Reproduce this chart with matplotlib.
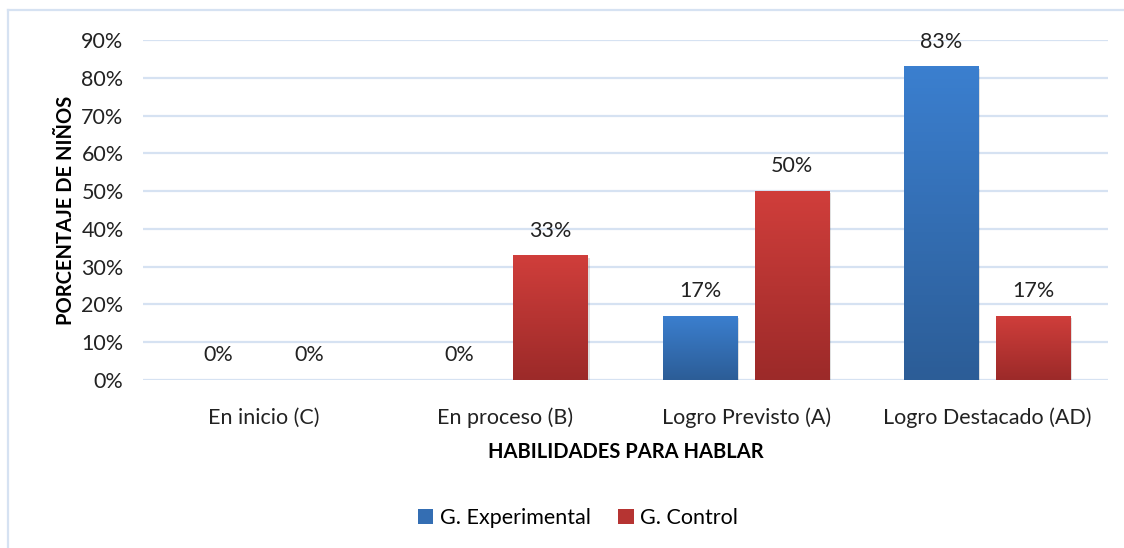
import numpy as np
import matplotlib.pyplot as plt
from matplotlib.lines import Line2D
from matplotlib.colors import LinearSegmentedColormap

plt.rcParams['font.family'] = ['Lato', 'DejaVu Sans']

categorias = ['En inicio (C)', 'En proceso (B)', 'Logro Previsto (A)', 'Logro Destacado (AD)']
experimental = [0, 0, 17, 83]
control = [0, 33, 50, 17]
series = ['G. Experimental', 'G. Control']

grad_blue = LinearSegmentedColormap.from_list('b', ['#2c5d97', '#3b7fcf'])
grad_red = LinearSegmentedColormap.from_list('r', ['#9c2a29', '#d03e3b'])

fig = plt.figure(figsize=(11.24, 5.48), dpi=100)
ax = fig.add_axes([143/1124, 1-380/548, 965/1124, 340/548])

x = np.arange(len(categorias))
w = 0.31
off = 0.19
grid_c = '#d6e2f2'
fs = 15.5

ax.set_xlim(-0.5, 3.5)
ax.set_ylim(0, 90)
ax.set_yticks(np.arange(0, 91, 10))
ax.set_yticklabels([f'{v}%' for v in range(0, 91, 10)], fontsize=fs, color='#222222')
ax.yaxis.grid(True, color=grid_c, lw=1.6)
ax.set_axisbelow(True)
for s in ax.spines.values():
    s.set_visible(False)
ax.tick_params(length=0, pad=14)
ax.tick_params(axis='x', pad=20)
ax.set_xticks(x)
ax.set_xticklabels(categorias, fontsize=fs, color='#222222')

def gradbars(xs, vals, cmap, label):
    bars = ax.bar(xs, vals, w, color=cmap(0.5), label=label, zorder=2)
    for b in bars:
        h = b.get_height()
        # shadow
        ax.bar(b.get_x() + b.get_width()/2 + 0.006, h, w, bottom=-0.6,
               color='#000000', alpha=0.12, zorder=1.5)
        if h > 0:
            im = ax.imshow(np.linspace(0, 1, 100).reshape(-1, 1), cmap=cmap,
                           aspect='auto', origin='lower',
                           extent=[b.get_x(), b.get_x() + b.get_width(), 0, h],
                           zorder=2.5)
            im.set_clip_path(b)
        ax.text(b.get_x() + b.get_width()/2, h + 3.9, f'{h:.0f}%',
                ha='center', va='bottom', fontsize=fs, color='#222222', zorder=3)
    return bars

gradbars(x - off, experimental, grad_blue, series[0])
gradbars(x + off, control, grad_red, series[1])
ax.set_xlim(-0.5, 3.5)
ax.set_ylim(0, 90)

ax.set_ylabel('PORCENTAJE DE NIÑOS', fontsize=14.5, fontweight='bold', labelpad=4)
ax.set_xlabel('HABILIDADES PARA HABLAR', fontsize=14.5, fontweight='bold', labelpad=10)

leg = ax.legend(loc='center', bbox_to_anchor=((578 - 143) / 965, (380 - 518) / 340),
                ncol=2, frameon=False, fontsize=fs, handlelength=0.7,
                handleheight=0.7, columnspacing=1.3, handletextpad=0.3)

fig.add_artist(Line2D([8/1124, 1], [1-10/548, 1-10/548], color=grid_c, lw=1.6))
fig.add_artist(Line2D([8/1124, 8/1124], [0, 1-10/548], color=grid_c, lw=1.6))

fig.savefig('out.png', dpi=100)
